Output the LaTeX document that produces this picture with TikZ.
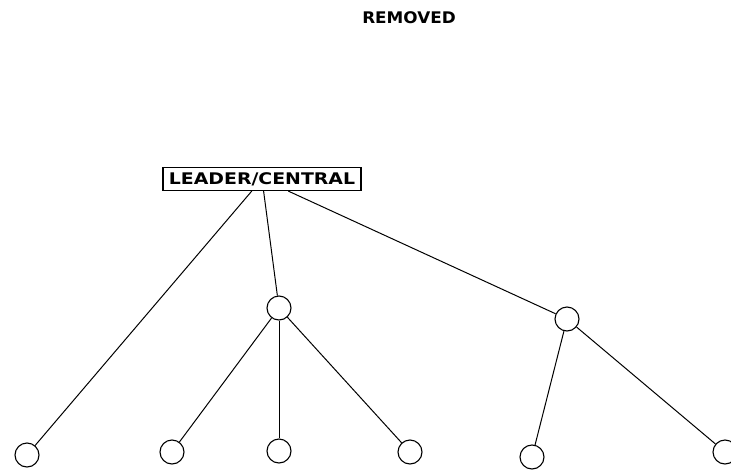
\documentclass[tikz,border=0pt]{standalone}
\usepackage{fontspec}
\usepackage{graphicx}
\setmainfont{DejaVu Sans}
\begin{document}
\begin{tikzpicture}[x=1pt,y=-1pt,
  lbl/.style={font=\fontsize{16}{18}\selectfont\bfseries, inner sep=0pt},
  leaf/.style={draw, circle, line width=1.1pt, minimum size=24pt, inner sep=0pt},
  boxnode/.style={draw, line width=1.1pt, minimum width=198pt, minimum height=23pt, inner sep=0pt, font=\fontsize{16}{18}\selectfont\bfseries},
  edge/.style={line width=1pt}]
\useasboundingbox (0,0) rectangle (731,469);
\node[lbl] (title) at (409,18) {\scalebox{1.05}[1]{REMOVED}};
\node[boxnode] (leader) at (262,179) {\scalebox{1.18}[1]{LEADER/CENTRAL}};
\node[leaf] (m1) at (279,308) {};
\node[leaf] (m2) at (567,319) {};
\node[leaf] (b1) at (27,455) {};
\node[leaf] (b2) at (172,452) {};
\node[leaf] (b3) at (279,451) {};
\node[leaf] (b4) at (410,452) {};
\node[leaf] (b5) at (532,457) {};
\node[leaf] (b6) at (725,452) {};
\draw[edge] (leader) -- (b1);
\draw[edge] (leader) -- (m1);
\draw[edge] (leader) -- (m2);
\draw[edge] (m1) -- (b2);
\draw[edge] (m1) -- (b3);
\draw[edge] (m1) -- (b4);
\draw[edge] (m2) -- (b5);
\draw[edge] (m2) -- (b6);
\end{tikzpicture}
\end{document}
